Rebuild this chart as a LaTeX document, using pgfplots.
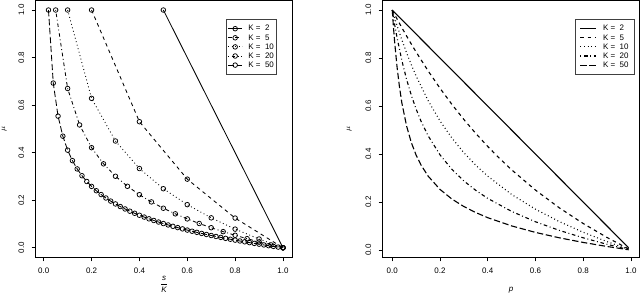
\documentclass[border=0pt]{standalone}
\usepackage{fontspec}
\setmainfont{Liberation Sans}
\usepackage{pgfplots}
\pgfplotsset{compat=1.18}
\tikzset{
  rdashed/.style={dash pattern=on 3.6bp off 3.6bp},
  rdotted/.style={dash pattern=on 0.9bp off 2.7bp},
  rdotdash/.style={dash pattern=on 0.9bp off 2.7bp on 3.6bp off 2.7bp},
  rlongdash/.style={dash pattern=on 6.3bp off 2.7bp},
}
\pgfplotsset{
  rstyle/.style={
    scale only axis,
    anchor=south west,
    axis line style={line width=0.6bp, black},
    tick style={line width=0.6bp, black},
    tick align=outside,
    xtick pos=left, ytick pos=left,
    major tick length=4bp,
    xtick={0,0.2,0.4,0.6,0.8,1},
    ytick={0,0.2,0.4,0.6,0.8,1},
    /pgf/number format/fixed,
    /pgf/number format/fixed zerofill,
    /pgf/number format/precision=1,
    /pgf/number format/assume math mode=true,
    ticklabel style={font=\fontsize{8}{9}\selectfont},
    yticklabel style={rotate=90, anchor=south},
    xticklabel shift=3bp,
    yticklabel shift=4bp,
    label style={font=\fontsize{8}{9}\selectfont},
    legend cell align=left,
    legend style={anchor=north west, draw=black!75, line width=0.5bp, fill=white,
      font=\fontsize{8}{9}\selectfont, row sep=0pt,
      nodes={inner sep=1bp, text height=5.8bp, text depth=1.3bp}},
  },
}
\begin{document}
\begin{tikzpicture}[x=1bp,y=1bp]
\useasboundingbox (0,0) rectangle (640,294);
% ---------------- left panel ----------------
\begin{axis}[rstyle,
  at={(35.7bp,36.7bp)}, width=256.6bp, height=256.8bp,
  xmin=-0.0334, xmax=1.0389, ymin=-0.04, ymax=1.04,
  xlabel={$\displaystyle\frac{\textit{s}}{\textit{K}}$},
  ylabel={$\mu$},
  xlabel style={at={(axis description cs:0.5,-0.1059)}, anchor=center},
  ylabel style={at={(axis description cs:-0.1224,0.5)}, anchor=center},
  legend style={at={(0.7416,0.9268)}, inner xsep=1.3bp, inner ysep=4.6bp,
    /tikz/every odd column/.append style={column sep=4.6bp}},
  legend image code/.code={\draw[mark repeat=2,mark phase=2,#1] plot coordinates {(0bp,0bp)(7.2bp,0bp)(14.4bp,0bp)};},
]
\addplot[black, line width=0.85bp, solid, mark=o, mark size=2.3bp, mark options={solid, line width=0.75bp}] coordinates {(0.5,1) (1,0)};
\addplot[black, line width=0.85bp, rdashed, mark=o, mark size=2.3bp, mark options={solid, line width=0.75bp}] coordinates {
(0.2,1) (0.4,0.5303) (0.6,0.2887) (0.8,0.125) (1,0)};
\addplot[black, line width=0.85bp, rdotted, mark=o, mark size=2.3bp, mark options={solid, line width=0.75bp}] coordinates {
(0.1,1) (0.2,0.62854) (0.3,0.44905) (0.4,0.33333) (0.5,0.24845) (0.6,0.18144) (0.7,0.12599) (0.8,0.07857) (0.9,0.03704) (1,0)};
\addplot[black, line width=0.85bp, rdotdash, mark=o, mark size=2.3bp, mark options={solid, line width=0.75bp}] coordinates {
(0.05,1) (0.10,0.66990) (0.15,0.51658) (0.20,0.42105) (0.25,0.35306) (0.30,0.30082) (0.35,0.25861) (0.40,0.22330) (0.45,0.19298) (0.50,0.16644)
(0.55,0.14282) (0.60,0.12155) (0.65,0.10218) (0.70,0.08440) (0.75,0.06795) (0.80,0.05263) (0.85,0.03830) (0.90,0.02481) (0.95,0.01207) (1,0)};
\addplot[black, line width=0.85bp, rlongdash, mark=o, mark size=2.3bp, mark options={solid, line width=0.75bp}] coordinates {
(0.02,1) (0.04,0.69267) (0.06,0.55377) (0.08,0.46939) (0.10,0.41071) (0.12,0.36659) (0.14,0.33168) (0.16,0.30305) (0.18,0.27891) (0.20,0.25815)
(0.22,0.23998) (0.24,0.22387) (0.26,0.20943) (0.28,0.19636) (0.30,0.18443) (0.32,0.17347) (0.34,0.16334) (0.36,0.15393) (0.38,0.14514) (0.40,0.13690)
(0.42,0.12915) (0.44,0.12183) (0.46,0.11490) (0.48,0.10831) (0.50,0.10204) (0.52,0.09606) (0.54,0.09034) (0.56,0.08485) (0.58,0.07958) (0.60,0.07452)
(0.62,0.06964) (0.64,0.06494) (0.66,0.06040) (0.68,0.05600) (0.70,0.05175) (0.72,0.04762) (0.74,0.04362) (0.76,0.03973) (0.78,0.03595) (0.80,0.03227)
(0.82,0.02869) (0.84,0.02519) (0.86,0.02179) (0.88,0.01846) (0.90,0.01521) (0.92,0.01204) (0.94,0.00893) (0.96,0.00589) (0.98,0.00292) (1.00,0)};
\legend{K =\ \ 2, K =\ \ 5, K =\ \ 10, K =\ \ 20, K =\ \ 50}
\end{axis}
% ---------------- right panel ----------------
\begin{axis}[rstyle,
  at={(382.7bp,36.7bp)}, width=256.6bp, height=257.3bp,
  xmin=-0.04, xmax=1.035, ymin=-0.03, ymax=1.042,
  xlabel={\textit{p}},
  ylabel={$\mu$},
  xlabel style={at={(axis description cs:0.5,-0.1271)}, anchor=center},
  ylabel style={at={(axis description cs:-0.1302,0.5)}, anchor=center},
  legend style={at={(0.748,0.925)}, inner xsep=5bp, inner ysep=4.6bp,
    /tikz/every odd column/.append style={column sep=5.7bp}},
  legend image code/.code={\draw[#1] (0bp,0bp) -- (15.3bp,0bp);},
]
\addplot[black, line width=1.1bp, solid] coordinates {(0,1) (0.99,0.01)};
\addplot[black, line width=1.1bp, rdashed] coordinates {
(0,1) (0.01,0.9814) (0.02,0.9630) (0.04,0.9270) (0.06,0.8921) (0.08,0.8581) (0.1,0.8252) (0.15,0.7470) (0.2,0.6744) (0.25,0.6069)
(0.3,0.5442) (0.35,0.4860) (0.4,0.4318) (0.45,0.3815) (0.5,0.3346) (0.6,0.2500) (0.7,0.1760) (0.8,0.1107) (0.9,0.0525) (0.99,0.0050)};
\addplot[black, line width=1.1bp, rdotted] coordinates {
(0,1) (0.01,0.96725) (0.02,0.93582) (0.04,0.87667) (0.06,0.82211) (0.08,0.77173) (0.1,0.72514) (0.15,0.62309) (0.2,0.53814) (0.25,0.46667)
(0.3,0.40587) (0.35,0.35352) (0.4,0.30792) (0.5,0.23190) (0.6,0.17036) (0.7,0.11875) (0.8,0.07426) (0.9,0.0351) (0.99,0.00335)};
\addplot[black, line width=1.1bp, rdotdash] coordinates {
(0,1) (0.005,0.96938) (0.01,0.94019) (0.02,0.88578) (0.04,0.79092) (0.06,0.71151) (0.08,0.64442) (0.1,0.5874) (0.12,0.53824) (0.15,0.47672)
(0.2,0.39685) (0.25,0.33623) (0.3,0.28819) (0.35,0.2488) (0.4,0.2155) (0.5,0.1613) (0.6,0.1181) (0.7,0.0821) (0.8,0.0512) (0.9,0.02416) (0.99,0.0023)};
\addplot[black, line width=1.1bp, rlongdash] coordinates {
(0,1) (0.005,0.9294) (0.01,0.86729) (0.02,0.76377) (0.03,0.68178) (0.04,0.61431) (0.06,0.51726) (0.08,0.44762) (0.1,0.39570) (0.12,0.3554)
(0.15,0.3086) (0.2,0.2529) (0.25,0.2126) (0.3,0.1815) (0.35,0.1564) (0.4,0.1351) (0.5,0.1008) (0.6,0.0737) (0.7,0.0512) (0.8,0.0319) (0.9,0.0151) (0.99,0.0014)};
\legend{K =\ \ 2, K =\ \ 5, K =\ \ 10, K =\ \ 20, K =\ \ 50}
\end{axis}
\end{tikzpicture}
\end{document}
